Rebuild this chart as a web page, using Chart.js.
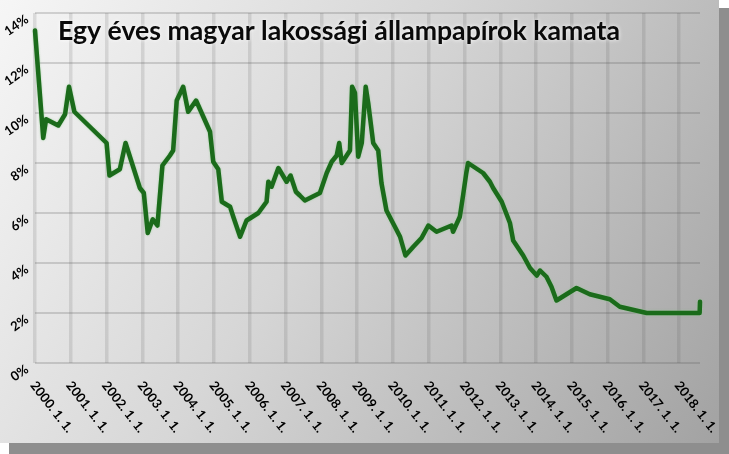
<!DOCTYPE html>
<html>
<head>
<meta charset="utf-8">
<script src="https://cdn.jsdelivr.net/npm/chart.js@4.4.0/dist/chart.umd.min.js"></script>
<style>
html, body { margin: 0; padding: 0; background: #fff; }
#wrap { width: 729px; height: 454px; }
</style>
</head>
<body>
<div id="wrap"><canvas id="chart" width="729" height="454"></canvas></div>
<script>
var chartTitle = 'Egy éves magyar lakossági állampapírok kamata';

// date as fractional year, rate in %
var years = [2000.00, 2000.23, 2000.31, 2000.65, 2000.84, 2000.95, 2001.10, 2002.00, 2002.08, 2002.37,
    2002.53, 2002.93, 2003.04, 2003.15, 2003.29, 2003.42, 2003.56, 2003.77, 2003.86, 2003.96,
    2004.14, 2004.28, 2004.50, 2004.89, 2004.98, 2005.12, 2005.22, 2005.45, 2005.54, 2005.73,
    2005.91, 2006.24, 2006.47, 2006.52, 2006.61, 2006.80, 2007.03, 2007.14, 2007.29, 2007.40,
    2007.54, 2007.96, 2008.15, 2008.29, 2008.43, 2008.50, 2008.57, 2008.80, 2008.86, 2008.94,
    2009.03, 2009.13, 2009.24, 2009.31, 2009.45, 2009.59, 2009.68, 2009.82, 2010.20, 2010.35,
    2010.57, 2010.80, 2010.99, 2011.22, 2011.64, 2011.68, 2011.87, 2011.96, 2012.05, 2012.10,
    2012.52, 2012.71, 2012.80, 2013.04, 2013.27, 2013.36, 2013.64, 2013.83, 2014.02, 2014.11,
    2014.29, 2014.43, 2014.57, 2015.13, 2015.50, 2016.06, 2016.34, 2017.09, 2018.57, 2018.58];
var rates = [13.3, 9.0, 9.75, 9.5, 9.95, 11.05, 10.05, 8.8, 7.5, 7.75,
    8.8, 7.0, 6.8, 5.2, 5.75, 5.5, 7.9, 8.3, 8.5, 10.5,
    11.05, 10.05, 10.5, 9.25, 8.05, 7.75, 6.45, 6.25, 5.85, 5.05,
    5.7, 6.0, 6.45, 7.25, 7.05, 7.8, 7.25, 7.5, 6.85, 6.7,
    6.5, 6.8, 7.6, 8.05, 8.3, 8.8, 8.0, 8.5, 11.05, 10.8,
    8.25, 8.8, 11.05, 10.4, 8.8, 8.5, 7.2, 6.1, 5.05, 4.3,
    4.65, 5.0, 5.5, 5.25, 5.5, 5.25, 5.85, 6.7, 7.6, 8.0,
    7.6, 7.25, 7.0, 6.45, 5.6, 4.9, 4.3, 3.8, 3.5, 3.7,
    3.45, 3.05, 2.5, 3.0, 2.75, 2.55, 2.25, 2.0, 2.0, 2.45];

var xTickYears = [2000, 2001, 2002, 2003, 2004, 2005, 2006, 2007, 2008, 2009,
    2010, 2011, 2012, 2013, 2014, 2015, 2016, 2017, 2018];
var xTickLabels = ['2000. 1. 1.', '2001. 1. 1.', '2002. 1. 1.', '2003. 1. 1.', '2004. 1. 1.',
    '2005. 1. 1.', '2006. 1. 1.', '2007. 1. 1.', '2008. 1. 1.', '2009. 1. 1.', '2010. 1. 1.',
    '2011. 1. 1.', '2012. 1. 1.', '2013. 1. 1.', '2014. 1. 1.', '2015. 1. 1.', '2016. 1. 1.',
    '2017. 1. 1.', '2018. 1. 1.'];
var yTickValues = [0, 2, 4, 6, 8, 10, 12, 14];
var yTickLabels = ['0%', '2%', '4%', '6%', '8%', '10%', '12%', '14%'];

// grey panel with drop shadow
var backdrop = {
    id: 'backdrop',
    beforeDraw(chart) {
        var ctx = chart.ctx;
        ctx.save();
        ctx.fillStyle = '#ffffff';
        ctx.fillRect(0, 0, 729, 454);
        ctx.fillStyle = '#8e8e8e';
        ctx.fillRect(9, 443, 720, 11);
        ctx.fillRect(719, 8, 10, 446);
        var g = ctx.createLinearGradient(0, 0, 720, 443);
        g.addColorStop(0, '#f6f6f6');
        g.addColorStop(0.45, '#d6d6d6');
        g.addColorStop(1, '#a2a2a2');
        ctx.fillStyle = g;
        ctx.fillRect(0, 0, 719, 443);
        ctx.restore();
    }
};

var lineGlow = {
    id: 'lineGlow',
    beforeDatasetsDraw(chart) {
        chart.ctx.save();
        chart.ctx.shadowColor = 'rgba(140,200,140,0.8)';
        chart.ctx.shadowBlur = 2;
    },
    afterDatasetsDraw(chart) {
        chart.ctx.restore();
    }
};

// rotated tick labels and the title
var labels = {
    id: 'labels',
    afterDraw(chart) {
        var ctx = chart.ctx, xs = chart.scales.x, ys = chart.scales.y;
        ctx.save();
        ctx.fillStyle = '#000';
        ctx.font = 'bold 13px Lato';
        ctx.textBaseline = 'middle';

        ctx.textAlign = 'right';
        yTickValues.forEach(function (v, i) {
            var py = ys.getPixelForValue(v);
            ctx.save();
            ctx.translate(27, py + 5);
            ctx.rotate(-35 * Math.PI / 180);
            ctx.fillText(yTickLabels[i], 0, 0);
            ctx.restore();
        });

        ctx.textAlign = 'left';
        xTickYears.forEach(function (v, i) {
            var px = xs.getPixelForValue(v);
            ctx.save();
            ctx.translate(px - 2, 383);
            ctx.rotate(52 * Math.PI / 180);
            ctx.fillText(xTickLabels[i], 0, 0);
            ctx.restore();
        });

        ctx.font = 'bold 27px Lato';
        ctx.textAlign = 'left';
        ctx.textBaseline = 'alphabetic';
        var w = ctx.measureText(chartTitle).width;
        ctx.translate(58, 40);
        ctx.scale(562 / w, 1);
        ctx.shadowColor = 'rgba(255,255,255,0.95)';
        ctx.shadowBlur = 4;
        ctx.fillStyle = '#0a0a0a';
        ctx.fillText(chartTitle, 0, 0);
        ctx.restore();
    }
};

new Chart(document.getElementById('chart'), {
    type: 'line',
    data: {
        datasets: [{
            data: years.map(function (x, i) { return { x: x, y: rates[i] }; }),
            borderColor: '#1b6b1b',
            borderWidth: 4.5,
            borderJoinStyle: 'round',
            borderCapStyle: 'round',
            pointRadius: 0,
            tension: 0,
            clip: 6
        }]
    },
    options: {
        responsive: false,
        animation: false,
        layout: { padding: { left: 35, right: 29, top: 13, bottom: 91 } },
        plugins: { legend: { display: false }, tooltip: { enabled: false } },
        scales: {
            x: {
                type: 'linear', min: 2000, max: 2018.58,
                afterBuildTicks: function (s) { s.ticks = xTickYears.map(function (v) { return { value: v }; }); },
                afterFit: function (s) { s.height = 0; },
                ticks: { display: false },
                grid: { color: 'rgba(90,90,90,0.16)', lineWidth: 3.5, drawTicks: false },
                border: { display: false }
            },
            y: {
                min: 0, max: 14,
                afterBuildTicks: function (s) { s.ticks = yTickValues.map(function (v) { return { value: v }; }); },
                afterFit: function (s) { s.width = 0; },
                ticks: { display: false },
                grid: { color: 'rgba(80,80,80,0.22)', lineWidth: 2, drawTicks: false },
                border: { display: false }
            }
        }
    },
    plugins: [backdrop, lineGlow, labels]
});
</script>
</body>
</html>
